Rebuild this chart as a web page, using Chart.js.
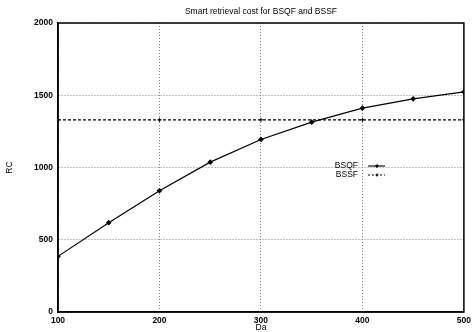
<!DOCTYPE html>
<html>
<head>
<meta charset="utf-8">
<script src="https://cdn.jsdelivr.net/npm/chart.js@4.4.1/dist/chart.umd.min.js"></script>
<style>
  html, body { margin: 0; padding: 0; background: #fff; }
  #wrap { width: 475px; height: 332px; }
</style>
</head>
<body>
<div id="wrap"><canvas id="c" width="475" height="332"></canvas></div>
<script>
// Da values and retrieval cost per scheme
const da = [100, 150, 200, 250, 300, 350, 400, 450, 500];
const bsqf = [385, 618, 839, 1037, 1194, 1314, 1411, 1475, 1523];
const bssfDa = [100, 200, 300, 400, 500];
const bssf = [1330, 1330, 1330, 1330, 1330];
const xTicks = [100, 200, 300, 400, 500];
const yTicks = [0, 500, 1000, 1500, 2000];

const titleText = 'Smart retrieval cost for BSQF and BSSF';
const xLabel = 'Da';
const yLabel = 'RC';
const FONT = 'Liberation Sans, Arial, sans-serif';

// Frame, title, axis names and the legend box drawn on top of the plot
const decor = {
  id: 'decor',
  afterDraw(chart) {
    const { ctx, chartArea: a } = chart;
    ctx.save();
    ctx.strokeStyle = '#000';
    ctx.lineWidth = 1.5;
    ctx.strokeRect(a.left, a.top, a.right - a.left, a.bottom - a.top);

    ctx.fillStyle = '#000';
    ctx.font = '8.5px ' + FONT;
    ctx.textAlign = 'center';
    ctx.textBaseline = 'middle';
    ctx.fillText(titleText, (a.left + a.right) / 2, 12);
    ctx.fillText(xLabel, (a.left + a.right) / 2, 328);
    ctx.save();
    ctx.translate(10, (a.top + a.bottom) / 2);
    ctx.rotate(-Math.PI / 2);
    ctx.fillText(yLabel, 0, 0);
    ctx.restore();

    // legend
    const items = [
      { label: 'BSQF', y: 166, dash: [], marker: 'diamond' },
      { label: 'BSSF', y: 175, dash: [2, 2], marker: 'cross' }
    ];
    ctx.textAlign = 'right';
    items.forEach(it => {
      ctx.fillStyle = '#000';
      ctx.fillText(it.label, 358, it.y);
      ctx.beginPath();
      ctx.setLineDash(it.dash);
      ctx.lineWidth = 1.1;
      ctx.moveTo(368, it.y);
      ctx.lineTo(385, it.y);
      ctx.stroke();
      ctx.setLineDash([]);
      const mx = 377;
      if (it.marker === 'diamond') {
        ctx.beginPath();
        ctx.moveTo(mx, it.y - 2);
        ctx.lineTo(mx + 2, it.y);
        ctx.lineTo(mx, it.y + 2);
        ctx.lineTo(mx - 2, it.y);
        ctx.closePath();
        ctx.fill();
      } else {
        ctx.beginPath();
        ctx.moveTo(mx - 1.5, it.y);
        ctx.lineTo(mx + 1.5, it.y);
        ctx.moveTo(mx, it.y - 1.5);
        ctx.lineTo(mx, it.y + 1.5);
        ctx.stroke();
      }
    });
    ctx.restore();
  }
};

const tickFont = { size: 8.5, family: FONT, weight: 'bold' };

new Chart(document.getElementById('c'), {
  type: 'line',
  data: {
    datasets: [
      {
        label: 'BSQF',
        data: da.map((x, i) => ({ x, y: bsqf[i] })),
        borderColor: '#000',
        backgroundColor: '#000',
        borderWidth: 1.2,
        pointStyle: 'rectRot',
        pointRadius: 2,
        tension: 0
      },
      {
        label: 'BSSF',
        data: bssfDa.map((x, i) => ({ x, y: bssf[i] })),
        borderColor: '#000',
        backgroundColor: '#000',
        borderWidth: 1.2,
        borderDash: [3, 2],
        pointStyle: 'cross',
        pointRadius: 2,
        pointBorderWidth: 1,
        tension: 0
      }
    ]
  },
  options: {
    responsive: false,
    animation: false,
    devicePixelRatio: 1,
    layout: { padding: { top: 23, right: 8, left: 0, bottom: 0 } },
    plugins: {
      legend: { display: false },
      title: { display: false },
      tooltip: { enabled: false }
    },
    scales: {
      x: {
        type: 'linear',
        min: 100,
        max: 500,
        afterFit(s) { s.height = 20; },
        afterBuildTicks(s) { s.ticks = xTicks.map(v => ({ value: v })); },
        ticks: { color: '#000', font: tickFont, padding: 4, maxRotation: 0, callback: v => String(v) },
        grid: { color: '#666', lineWidth: 0.8, drawTicks: false },
        border: { display: true, color: '#000', width: 1.5, dash: [1, 2] }
      },
      y: {
        min: 0,
        max: 2000,
        afterFit(s) { s.width = 58; },
        afterBuildTicks(s) { s.ticks = yTicks.map(v => ({ value: v })); },
        ticks: { color: '#000', font: tickFont, padding: 5, callback: v => String(v) },
        grid: { color: '#666', lineWidth: 0.8, drawTicks: false },
        border: { display: true, color: '#000', width: 1.5, dash: [1, 2] }
      }
    }
  },
  plugins: [decor]
});
</script>
</body>
</html>
